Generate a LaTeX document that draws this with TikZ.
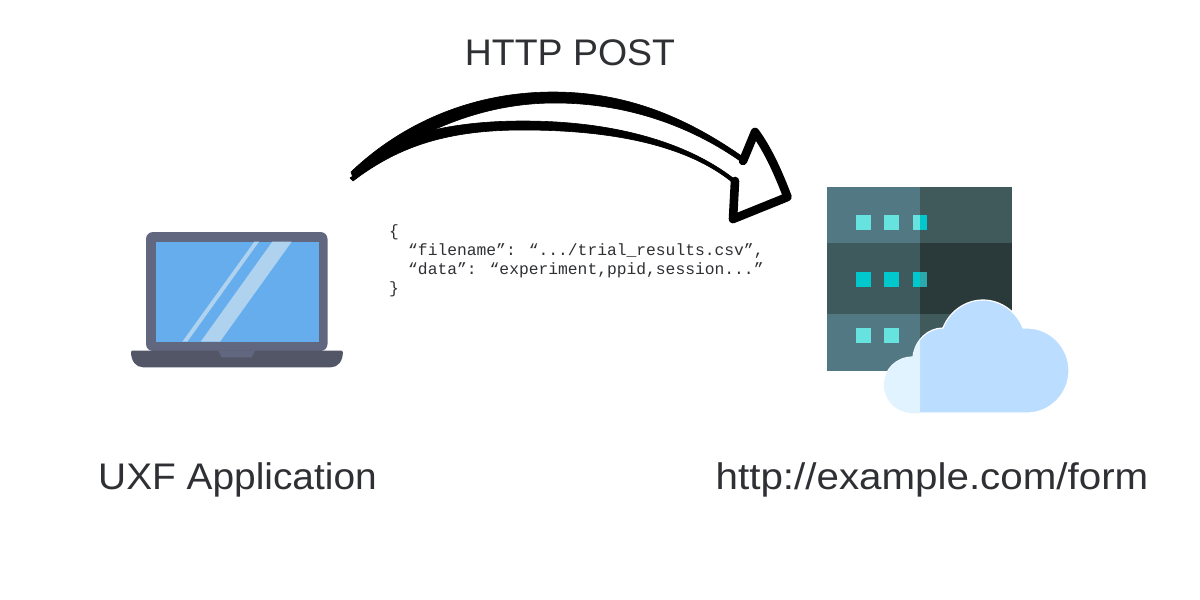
\documentclass[tikz,border=0pt]{standalone}
\usepackage{fontspec}
\setmainfont{Liberation Sans}
\newfontfamily\codefont{Liberation Mono}
\definecolor{inkc}{HTML}{2E3033}
\definecolor{lidc}{HTML}{626780}
\definecolor{basec}{HTML}{535667}
\definecolor{screenc}{HTML}{66ADEE}
\definecolor{glarec}{HTML}{AFD2EE}
\definecolor{bandLL}{HTML}{527884}
\definecolor{bandLR}{HTML}{405A5C}
\definecolor{bandDL}{HTML}{3F5A5C}
\definecolor{bandDR}{HTML}{2A3A3A}
\definecolor{ledlight}{HTML}{66E3DF}
\definecolor{ledcyan}{HTML}{00C8CC}
\definecolor{leddim}{HTML}{2AA8AA}
\definecolor{cloudR}{HTML}{BBDDFF}
\definecolor{cloudL}{HTML}{E0F3FF}
\tikzset{
  biglabel/.style={inner sep=0pt,text=inkc,font=\fontsize{37}{40}\selectfont},
  codeblock/.style={inner sep=0pt,text=inkc,align=left,anchor=north west,font=\codefont\fontsize{16.3}{19}\selectfont},
  inkstroke/.style={fill=black,draw=black,line width=0.6pt,line join=round},
  headstroke/.style={draw=black,line width=8.6pt,line join=round,line cap=round},
}
\begin{document}
\begin{tikzpicture}[x=1pt,y=-1pt]
\useasboundingbox (0,0) rectangle (1200,600);
\fill[white] (0,0) rectangle (1200,600);

% laptop
\fill[lidc,rounded corners=7pt] (146,351) -- (146,232) -- (327.5,232) -- (327.5,351) -- cycle;
\fill[screenc] (155.7,241.7) rectangle (318.7,341.7);
\fill[glarec] (254.3,241.7) -- (259,241.7) -- (187.3,341.7) -- (182.3,341.7) -- cycle;
\fill[glarec] (272.3,241.7) -- (291.7,241.7) -- (220,341.7) -- (200.7,341.7) -- cycle;
\fill[basec] (132,350.7) -- (341.7,350.7)
  .. controls (342.4,350.7) and (342.9,351.2) .. (342.9,352)
  .. controls (342.9,361) and (338,367.3) .. (331,367.3)
  -- (143,367.3)
  .. controls (136,367.3) and (131,361) .. (131,352)
  .. controls (131,351.2) and (131.4,350.7) .. (132,350.7) -- cycle;
\fill[lidc] (218.3,350.7) -- (255,350.7) -- (251.7,357.3) -- (221.7,357.3) -- cycle;

% server
\fill[bandLL] (827,187) rectangle (920,243);
\fill[bandLR] (920,187) rectangle (1012,243);
\fill[bandDL] (827,243) rectangle (920,314);
\fill[bandDR] (920,243) rectangle (1012,314);
\fill[bandLL] (827,314) rectangle (920,371);
\fill[bandLR] (920,314) rectangle (1012,371);
\foreach \lx in {856,884} {
  \fill[ledlight] (\lx,215) rectangle ++(14.5,14.5);
  \fill[ledcyan] (\lx,272) rectangle ++(14.5,14.5);
  \fill[ledlight] (\lx,328) rectangle ++(14.5,14.5);
}
\fill[ledlight] (912.5,215) rectangle (920,229.5);
\fill[ledcyan] (920,215) rectangle (927,229.5);
\fill[ledcyan] (912.5,272) rectangle (920,286.5);
\fill[leddim] (920,272) rectangle (927,286.5);

% cloud
\def\cloudpath{(912,413)
  .. controls (896.5,413) and (884,400.5) .. (884,385)
  .. controls (884,369.5) and (896.5,357) .. (913,357)
  .. controls (915,340) and (928,328) .. (943,328)
  .. controls (949,312) and (965,300) .. (983,300)
  .. controls (1001,300) and (1017,312) .. (1023,328)
  -- (1027,328)
  .. controls (1050,328) and (1069,347) .. (1069,370.5)
  .. controls (1069,394) and (1050,413) .. (1027,413) -- cycle}
\draw[white,line width=1.2pt,fill=cloudR] \cloudpath;
\begin{scope}
  \clip (870,290) rectangle (920,420);
  \fill[cloudL] \cloudpath;
\end{scope}

% hand drawn arrow
\fill[inkstroke] (351,172) .. controls (400,125) and (470,92) .. (553,92)
  .. controls (630,92) and (690,120) .. (743,157)
  -- (743,163) .. controls (690,125) and (625,103) .. (555,103)
  .. controls (490,103) and (425,125) .. (353,178) -- cycle;
\fill[inkstroke] (415,135) .. controls (450,124) and (490,121) .. (523,121)
  .. controls (620,121) and (690,145) .. (733,178)
  -- (732,182) .. controls (690,148) and (620,130) .. (523,130)
  .. controls (450,130) and (400,145) .. (353,181)
  -- (350,178) -- cycle;
\draw[headstroke] (743,161) -- (755,132)
  .. controls (768,150) and (778,172) .. (787.5,197)
  -- (733,219) -- (735,181);

% texts
\node[biglabel] (post) at (570,53) {\addfontfeature{FakeStretch=1.012}HTTP POST};
\node[biglabel] (app) at (237.5,480) {\addfontfeature{FakeStretch=1.05}UXF Application};
\node[biglabel] (url) at (932,480) {\addfontfeature{FakeStretch=1.09}http://example.com/form};
\node[codeblock] (code) at (389,224.5) {\{\\
\hspace*{19pt}“filename”: “.../trial\_results.csv”,\\
\hspace*{19pt}“data”: “experiment,ppid,session...”\\
\}};
\end{tikzpicture}
\end{document}
